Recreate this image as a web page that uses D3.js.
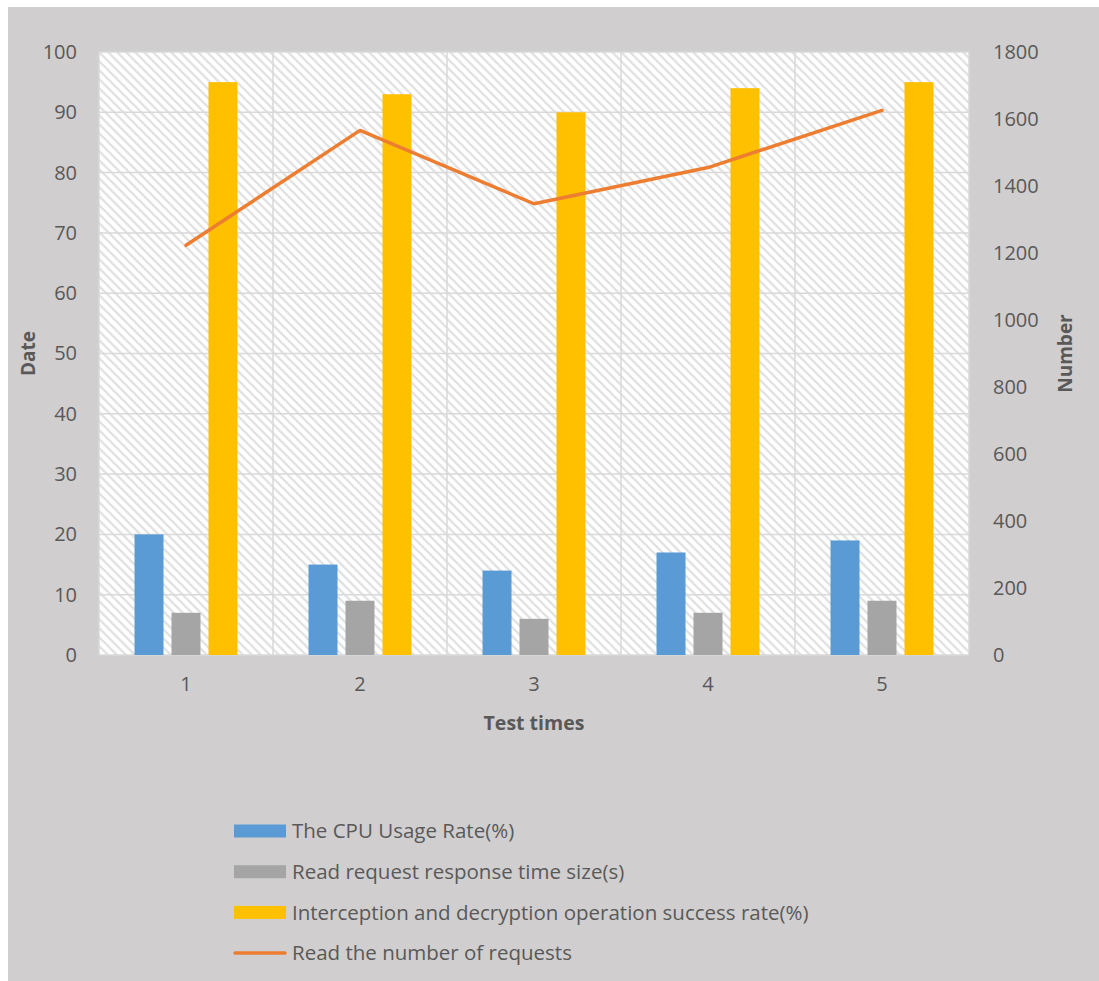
<!DOCTYPE html>
<html>
<head>
<meta charset="utf-8">
<script src="https://cdn.jsdelivr.net/npm/d3@7"></script>
<style>
  html, body { margin: 0; padding: 0; background: #fff; }
  svg { display: block; }
  text { font-family: "Open Sans", "Noto Sans", sans-serif; fill: #595959; }
</style>
</head>
<body>
<svg id="chart" width="1099" height="981"></svg>
<script>
// data
const testTimes   = ["1", "2", "3", "4", "5"];
const cpuRate     = [20, 15, 14, 17, 19];
const respTime    = [7, 9, 6, 7, 9];
const successRate = [95, 93, 90, 94, 95];
const reqCount    = [1223, 1566, 1347, 1455, 1626];
const leftTicks   = [0, 10, 20, 30, 40, 50, 60, 70, 80, 90, 100];
const rightTicks  = [0, 200, 400, 600, 800, 1000, 1200, 1400, 1600, 1800];

const barSeries = [
  { name: "The CPU Usage Rate(%)", values: cpuRate, color: "#5b9bd5" },
  { name: "Read request response time size(s)", values: respTime, color: "#a5a5a5" },
  { name: "Interception and decryption operation success rate(%)", values: successRate, color: "#ffc000" }
];
const lineSeries = { name: "Read the number of requests", values: reqCount, color: "#ed7d31" };

const W = 1099, H = 981;
const margin = { top: 52, left: 99, right: 130, bottom: 326 };
const pw = W - margin.left - margin.right;   // plot width
const ph = H - margin.top - margin.bottom;   // plot height

const svg = d3.select("#chart");

// outer grey panel
svg.append("rect").attr("x", 8).attr("y", 7).attr("width", W - 8).attr("height", H - 7)
  .attr("fill", "#d0cece");

// hatch pattern
const defs = svg.append("defs");
const pat = defs.append("pattern").attr("id", "hatch")
  .attr("patternUnits", "userSpaceOnUse").attr("width", 9).attr("height", 9);
pat.append("rect").attr("width", 9).attr("height", 9).attr("fill", "#ffffff");
pat.append("path").attr("d", "M-2,-2 L11,11 M-2,7 L2,11 M7,-2 L11,2")
  .attr("stroke", "#e3e3e3").attr("stroke-width", 2.4);

const g = svg.append("g").attr("transform", `translate(${margin.left},${margin.top})`);

// scales
const x = d3.scaleBand().domain(testTimes).range([0, pw]).padding(0);
const xs = d3.scaleBand().domain(d3.range(barSeries.length)).range([0, x.bandwidth()])
  .paddingInner(0.216).paddingOuter(0.96);
const yL = d3.scaleLinear().domain([0, 100]).range([ph, 0]);
const yR = d3.scaleLinear().domain([0, 1800]).range([ph, 0]);

// plot background
g.append("rect").attr("width", pw).attr("height", ph)
  .attr("fill", "url(#hatch)").attr("stroke", "#d9d9d9").attr("stroke-width", 1.5);

// horizontal gridlines
g.append("g").selectAll("line").data(leftTicks.slice(1, -1)).join("line")
  .attr("x1", 0).attr("x2", pw)
  .attr("y1", d => yL(d)).attr("y2", d => yL(d))
  .attr("stroke", "#d9d9d9").attr("stroke-width", 1.5);

// vertical category boundaries
g.append("g").selectAll("line").data(testTimes.slice(1)).join("line")
  .attr("x1", d => x(d)).attr("x2", d => x(d))
  .attr("y1", 0).attr("y2", ph)
  .attr("stroke", "#d9d9d9").attr("stroke-width", 1.5);

// bars
barSeries.forEach((s, i) => {
  g.append("g").selectAll("rect").data(s.values).join("rect")
    .attr("x", (d, j) => x(testTimes[j]) + xs(i))
    .attr("width", xs.bandwidth())
    .attr("y", d => yL(d))
    .attr("height", d => ph - yL(d))
    .attr("fill", s.color);
});

// line
const line = d3.line()
  .x((d, j) => x(testTimes[j]) + x.bandwidth() / 2)
  .y(d => yR(d));
g.append("path").datum(lineSeries.values)
  .attr("d", line).attr("fill", "none")
  .attr("stroke", lineSeries.color).attr("stroke-width", 3.5)
  .attr("stroke-linecap", "round").attr("stroke-linejoin", "round");

// axes
const axL = g.append("g").call(d3.axisLeft(yL).tickValues(leftTicks).tickSize(0).tickPadding(22));
const axR = g.append("g").attr("transform", `translate(${pw},0)`)
  .call(d3.axisRight(yR).tickValues(rightTicks).tickFormat(d3.format("d")).tickSize(0).tickPadding(24));
const axB = g.append("g").attr("transform", `translate(0,${ph})`)
  .call(d3.axisBottom(x).tickSize(0).tickPadding(22));
[axL, axR, axB].forEach(a => {
  a.select(".domain").remove();
  a.selectAll("text").attr("font-size", 20).attr("fill", "#595959")
    .attr("font-family", '"Open Sans", "Noto Sans", sans-serif');
});

// axis titles
svg.append("text").attr("transform", `translate(35,${margin.top + ph / 2}) rotate(-90)`)
  .attr("text-anchor", "middle").attr("font-size", 19).attr("font-weight", "bold").text("Date");
svg.append("text").attr("transform", `translate(1072,${margin.top + ph / 2}) rotate(-90)`)
  .attr("text-anchor", "middle").attr("font-size", 19).attr("font-weight", "bold").text("Number");
svg.append("text").attr("x", margin.left + pw / 2).attr("y", 730)
  .attr("text-anchor", "middle").attr("font-size", 19.5).attr("font-weight", "bold").text("Test times");

// legend
const legendItems = barSeries.map(s => ({ name: s.name, color: s.color, type: "bar" }))
  .concat([{ name: lineSeries.name, color: lineSeries.color, type: "line" }]);
const lg = svg.append("g").attr("transform", "translate(234,831)");
const rows = lg.selectAll("g").data(legendItems).join("g")
  .attr("transform", (d, i) => `translate(0,${i * 40.7})`);
rows.filter(d => d.type === "bar").append("rect")
  .attr("x", 0).attr("y", -6.5).attr("width", 52).attr("height", 13).attr("fill", d => d.color);
rows.filter(d => d.type === "line").append("line")
  .attr("x1", 1).attr("x2", 51).attr("y1", 0).attr("y2", 0)
  .attr("stroke", d => d.color).attr("stroke-width", 3.5).attr("stroke-linecap", "round");
rows.append("text").attr("x", 58).attr("y", 0).attr("dy", "0.35em")
  .attr("font-size", 20.5).text(d => d.name);
</script>
</body>
</html>
